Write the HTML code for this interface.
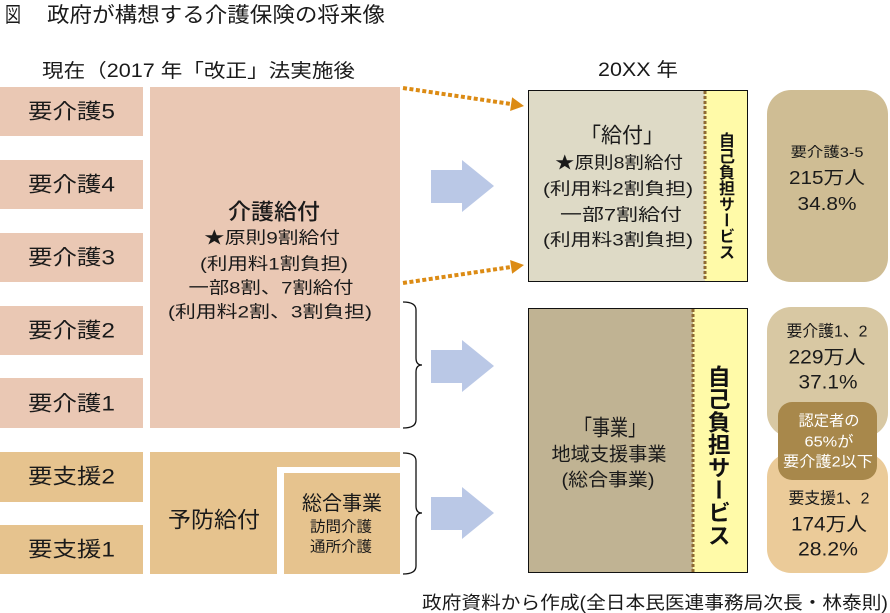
<!DOCTYPE html>
<html><head><meta charset="utf-8">
<style>
html,body{margin:0;padding:0;background:#fff;}
body{width:890px;height:613px;position:relative;overflow:hidden;font-family:"Liberation Sans","Noto Sans CJK JP",sans-serif;}
svg{position:absolute;left:0;top:0;}
svg text{font-family:"Liberation Sans","Noto Sans CJK JP",sans-serif;fill:#1a1a1a;}
.v{position:absolute;writing-mode:vertical-rl;font-family:"Noto Sans CJK JP",sans-serif;font-weight:bold;color:#111;line-height:1;white-space:nowrap;}
</style></head><body>
<svg width="890" height="613" viewBox="0 0 890 613" xmlns="http://www.w3.org/2000/svg">
<text x="5" y="22" font-size="21" textLength="16" lengthAdjust="spacingAndGlyphs">図</text>
<text x="47" y="22" font-size="21" textLength="338" lengthAdjust="spacingAndGlyphs">政府が構想する介護保険の将来像</text>
<text x="42" y="77" font-size="19" textLength="313" lengthAdjust="spacingAndGlyphs">現在（2017 年「改正」法実施後</text>
<text x="598" y="76" font-size="19" textLength="80" lengthAdjust="spacingAndGlyphs">20XX 年</text>

<g fill="#eac8b4">
<rect x="0" y="87" width="143" height="49"/>
<rect x="0" y="160" width="143" height="49"/>
<rect x="0" y="233" width="143" height="49"/>
<rect x="0" y="306" width="143" height="49"/>
<rect x="0" y="378" width="143" height="50"/>
<rect x="150" y="87" width="250" height="341"/>
</g>
<g fill="#e6c38e">
<rect x="0" y="452" width="143" height="50"/>
<rect x="0" y="525" width="143" height="49"/>
<path d="M150,452 H400 V467 H277 V574 H150 Z"/>
<rect x="284" y="473" width="116" height="101"/>
</g>
<g font-size="21" dominant-baseline="central">
<text x="28" y="112" textLength="87" lengthAdjust="spacingAndGlyphs">要介護5</text>
<text x="28" y="185" textLength="87" lengthAdjust="spacingAndGlyphs">要介護4</text>
<text x="28" y="258" textLength="87" lengthAdjust="spacingAndGlyphs">要介護3</text>
<text x="28" y="331" textLength="87" lengthAdjust="spacingAndGlyphs">要介護2</text>
<text x="28" y="404" textLength="87" lengthAdjust="spacingAndGlyphs">要介護1</text>
<text x="28" y="477" textLength="87" lengthAdjust="spacingAndGlyphs">要支援2</text>
<text x="28" y="550" textLength="87" lengthAdjust="spacingAndGlyphs">要支援1</text>
</g>
<g text-anchor="middle" dominant-baseline="central">
<text x="274" y="212" font-size="22" font-weight="500" textLength="92" lengthAdjust="spacingAndGlyphs">介護給付</text>
<text x="272" y="238" font-size="17" textLength="136" lengthAdjust="spacingAndGlyphs">★原則9割給付</text>
<text x="274" y="264" font-size="17" textLength="148" lengthAdjust="spacingAndGlyphs">(利用料1割負担)</text>
<text x="271" y="288" font-size="17" textLength="165" lengthAdjust="spacingAndGlyphs">一部8割、7割給付</text>
<text x="270" y="312" font-size="17" textLength="204" lengthAdjust="spacingAndGlyphs">(利用料2割、3割負担)</text>
<text x="214" y="520" font-size="22" textLength="92" lengthAdjust="spacingAndGlyphs">予防給付</text>
<text x="342" y="504" font-size="20" textLength="80" lengthAdjust="spacingAndGlyphs">総合事業</text>
<text x="341" y="527" font-size="15" textLength="62" lengthAdjust="spacingAndGlyphs">訪問介護</text>
<text x="341" y="547" font-size="15" textLength="62" lengthAdjust="spacingAndGlyphs">通所介護</text>
</g>

<g fill="none" stroke="#111" stroke-width="1.3">
<path d="M403,302 Q416,302 416,310 L416,358 Q416,365 422,365 Q416,365 416,372 L416,420 Q416,428 403,428"/>
<path d="M403,453 Q416,453 416,461 L416,506 Q416,513 422,513 Q416,513 416,520 L416,566 Q416,574 403,574"/>
</g>

<g stroke="#dc8b14" stroke-width="4" stroke-dasharray="4 2.5" fill="none">
<line x1="403" y1="88" x2="511" y2="104"/>
<line x1="403" y1="283" x2="511" y2="267"/>
</g>
<g fill="#dc8b14">
<polygon points="524,106 512.1,97.2 510.1,111"/>
<polygon points="524,265 512.1,273.8 510.1,260"/>
</g>

<g fill="#bac8e6">
<polygon points="431,170 462,170 462,160 494,186 462,212 462,203 431,203"/>
<polygon points="431,350 462,350 462,340 494,366 462,392 462,383 431,383"/>
<polygon points="431,497 462,497 462,487 494,513 462,539 462,530 431,530"/>
</g>

<rect x="528.5" y="90.5" width="219" height="191" fill="#dedac6" stroke="#111" stroke-width="1"/>
<rect x="705" y="91" width="42" height="190" fill="#fffaa8"/>
<line x1="705" y1="91" x2="705" y2="281" stroke="#8e6a32" stroke-width="3" stroke-dasharray="3 2"/>
<rect x="528.5" y="308.5" width="219" height="264" fill="#c0b393" stroke="#111" stroke-width="1"/>
<rect x="693" y="309" width="54" height="263" fill="#fffaa8"/>
<line x1="693" y1="309" x2="693" y2="572" stroke="#8e6a32" stroke-width="3" stroke-dasharray="3 2"/>

<g text-anchor="middle" dominant-baseline="central">
<text x="622" y="136" font-size="21" textLength="84" lengthAdjust="spacingAndGlyphs">「給付」</text>
<text x="619" y="163" font-size="17" textLength="128" lengthAdjust="spacingAndGlyphs">★原則8割給付</text>
<text x="618" y="189" font-size="17" textLength="150" lengthAdjust="spacingAndGlyphs">(利用料2割負担)</text>
<text x="621" y="215" font-size="17" textLength="122" lengthAdjust="spacingAndGlyphs">一部7割給付</text>
<text x="618" y="240" font-size="17" textLength="150" lengthAdjust="spacingAndGlyphs">(利用料3割負担)</text>
<text x="610" y="428" font-size="22" textLength="72" lengthAdjust="spacingAndGlyphs">「事業」</text>
<text x="609" y="455" font-size="19" textLength="115" lengthAdjust="spacingAndGlyphs">地域支援事業</text>
<text x="608" y="480" font-size="18" textLength="93" lengthAdjust="spacingAndGlyphs">(総合事業)</text>
</g>

<rect x="767" y="90" width="121" height="192" rx="24" fill="#cfbd94"/>
<rect x="767" y="453" width="121" height="120" rx="24" fill="#ebcb99"/>
<rect x="767" y="307" width="121" height="130" rx="24" fill="#d8c8a3"/>
<rect x="778" y="402" width="99" height="78" rx="14" fill="#a8884b"/>
<g text-anchor="middle" dominant-baseline="central">
<text x="827" y="152" font-size="14" textLength="73" lengthAdjust="spacingAndGlyphs">要介護3-5</text>
<text x="827" y="178" font-size="18" textLength="76" lengthAdjust="spacingAndGlyphs">215万人</text>
<text x="827" y="204" font-size="18" textLength="59" lengthAdjust="spacingAndGlyphs">34.8%</text>
<text x="827" y="332" font-size="16" textLength="81" lengthAdjust="spacingAndGlyphs">要介護1、2</text>
<text x="827" y="358" font-size="19" textLength="77" lengthAdjust="spacingAndGlyphs">229万人</text>
<text x="828" y="383" font-size="19" textLength="59" lengthAdjust="spacingAndGlyphs">37.1%</text>
<text x="829" y="499" font-size="16" textLength="81" lengthAdjust="spacingAndGlyphs">要支援1、2</text>
<text x="829" y="525" font-size="19" textLength="76" lengthAdjust="spacingAndGlyphs">174万人</text>
<text x="828" y="550" font-size="19" textLength="60" lengthAdjust="spacingAndGlyphs">28.2%</text>
<text x="829" y="421" font-size="15" style="fill:#fff" textLength="61" lengthAdjust="spacingAndGlyphs">認定者の</text>
<text x="829" y="442" font-size="15" style="fill:#fff" textLength="49" lengthAdjust="spacingAndGlyphs">65%が</text>
<text x="828" y="462" font-size="15" style="fill:#fff" textLength="90" lengthAdjust="spacingAndGlyphs">要介護2以下</text>
</g>

<text x="422" y="609" font-size="18" textLength="466" lengthAdjust="spacingAndGlyphs">政府資料から作成(全日本民医連事務局次長・林泰則)</text>
</svg>
<div class="v" style="left:719px;top:132px;font-size:16px;">自己負担サービス</div>
<div class="v" style="left:707px;top:365px;font-size:22.7px;">自己負担サービス</div>
</body></html>
